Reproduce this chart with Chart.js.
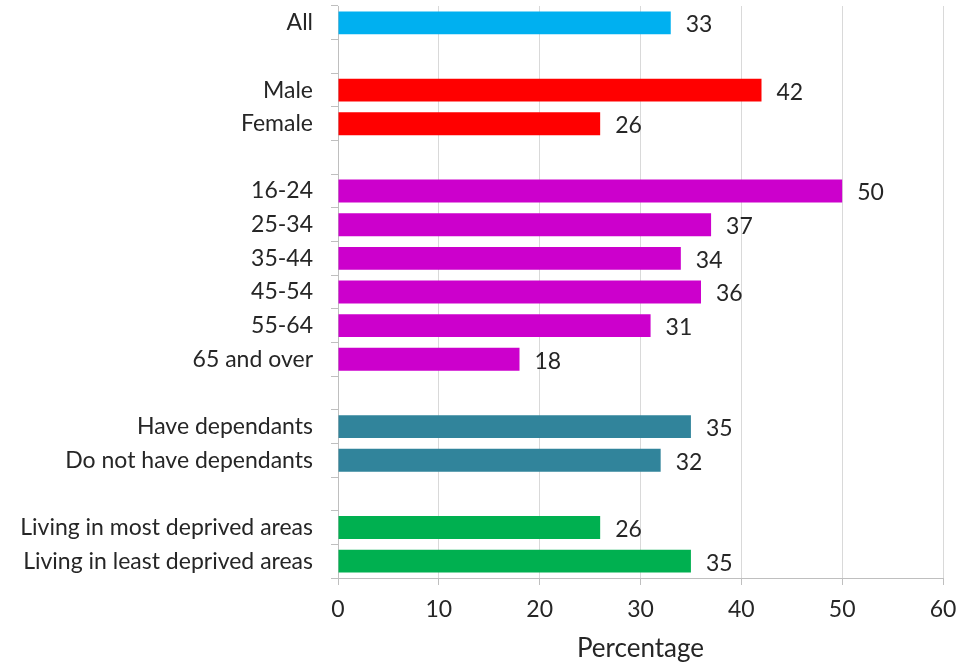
<!DOCTYPE html>
<html>
<head>
<meta charset="utf-8">
<script src="https://cdn.jsdelivr.net/npm/chart.js@4/dist/chart.umd.min.js"></script>
<style>
  html, body { margin: 0; padding: 0; background: #fff; }
  #wrap { width: 975px; height: 665px; position: relative; }
</style>
</head>
<body>
<div id="wrap"><canvas id="chart"></canvas></div>
<script>
const categories = [
  'All', '',
  'Male', 'Female', '',
  '16-24', '25-34', '35-44', '45-54', '55-64', '65 and over', '',
  'Have dependants', 'Do not have dependants', '',
  'Living in most deprived areas', 'Living in least deprived areas'
]
const values = [
  33, null,
  42, 26, null,
  50, 37, 34, 36, 31, 18, null,
  35, 32, null,
  26, 35
]
const barColors = [
  '#00B0F0', null,
  '#FF0000', '#FF0000', null,
  '#CC00CC', '#CC00CC', '#CC00CC', '#CC00CC', '#CC00CC', '#CC00CC', null,
  '#31849B', '#31849B', null,
  '#00B050', '#00B050'
]
const xTicks = [0, 10, 20, 30, 40, 50, 60]

const FONT = 'Lato'
const FSIZE = 23
const TEXT = '#262626'
const LINE = '#BFBFBF'

// value labels to the right of each bar
const valueLabels = {
  id: 'valueLabels',
  afterDatasetsDraw(chart) {
    const {ctx} = chart
    const meta = chart.getDatasetMeta(0)
    ctx.save()
    ctx.font = `${FSIZE}px "${FONT}"`
    ctx.fillStyle = TEXT
    ctx.textBaseline = 'middle'
    ctx.textAlign = 'left'
    meta.data.forEach((bar, i) => {
      if (values[i] == null) return
      ctx.fillText(String(values[i]), bar.x + 15, bar.y + 2)
    })
    ctx.restore()
  },
}

new Chart(document.getElementById('chart'), {
  type: 'bar',
  data: {
    labels: categories,
    datasets: [
      {
        data: values,
        backgroundColor: barColors,
        borderWidth: 0,
        barPercentage: 0.68,
        categoryPercentage: 1,
      },
    ],
  },
  options: {
    indexAxis: 'y',
    responsive: true,
    maintainAspectRatio: false,
    animation: false,
    layout: {padding: {top: 6, right: 32, left: 0, bottom: 1}},
    plugins: {
      legend: {display: false},
      tooltip: {enabled: false},
    },
    scales: {
      x: {
        min: 0,
        max: 60,
        afterBuildTicks: axis => {
          axis.ticks = xTicks.map(v => ({value: v}))
        },
        afterFit: axis => {
          axis.height = 86
          axis.paddingLeft = 0
          axis.paddingRight = 0
        },
        grid: {
          color: '#D9D9D9',
          tickLength: 7,
          tickColor: LINE,
        },
        border: {color: LINE},
        ticks: {
          color: TEXT,
          font: {family: FONT, size: FSIZE},
          padding: 11,
        },
        title: {
          display: true,
          text: 'Percentage',
          color: TEXT,
          font: {family: FONT, size: 26},
          padding: {top: 0, bottom: 0},
        },
      },
      y: {
        afterFit: axis => {
          axis.width = 338
          axis.paddingTop = 0
          axis.paddingBottom = 0
        },
        grid: {
          drawOnChartArea: false,
          tickLength: 7,
          tickColor: LINE,
          offset: true,
        },
        border: {color: LINE},
        ticks: {
          color: TEXT,
          font: {family: FONT, size: FSIZE},
          padding: 18,
          autoSkip: false,
        },
      },
    },
  },
  plugins: [valueLabels],
})
</script>
</body>
</html>
